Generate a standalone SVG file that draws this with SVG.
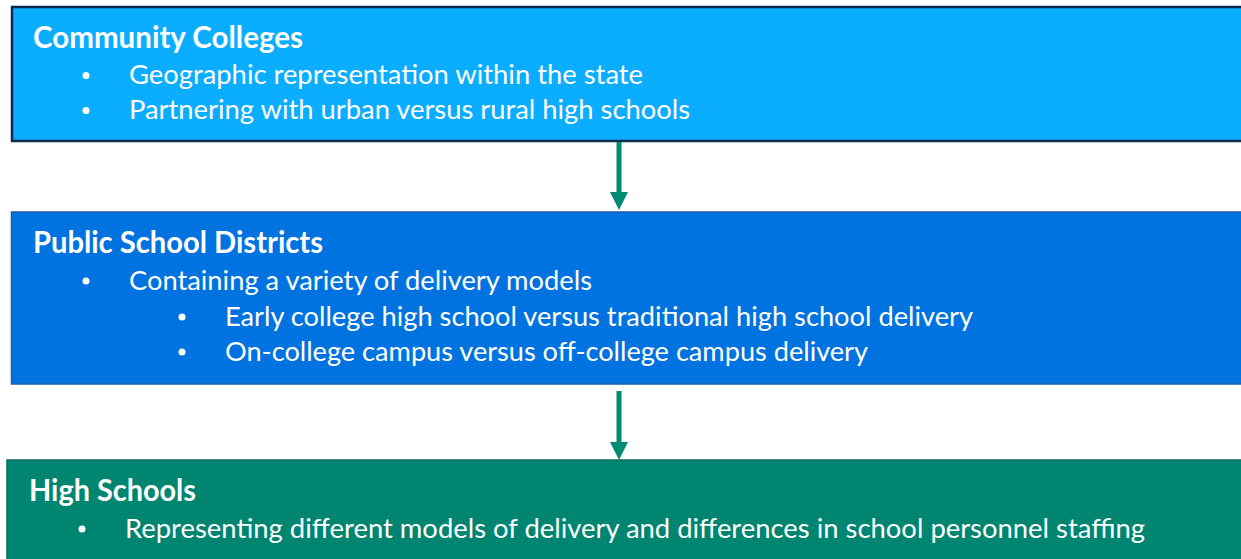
<svg xmlns="http://www.w3.org/2000/svg" width="1241" height="559" viewBox="0 0 1241 559">
<style>
.t{font-family:Lato,"Open Sans","Liberation Sans",sans-serif;fill:#ffffff;font-weight:bold;font-size:30px}
.b{font-family:Lato,"Open Sans","Liberation Sans",sans-serif;fill:#ffffff;font-size:26.5px}
.dot{fill:#ffffff}
.conn{stroke:#008B74;stroke-width:5;fill:none}
</style>
<defs>
<marker id="ah" viewBox="0 0 18 18" markerWidth="18" markerHeight="18" markerUnits="userSpaceOnUse" refX="0" refY="9" orient="auto">
<path d="M0,0 L18,9 L0,18 z" fill="#008B74"/>
</marker>
</defs>
<rect width="1241" height="559" fill="#ffffff"/>
<g id="community-colleges">
<rect x="12" y="7" width="1240" height="134" fill="#0AADFF" stroke="#0D2C4F" stroke-width="2.5"/>
<text class="t" x="33" y="48" textLength="270" lengthAdjust="spacingAndGlyphs">Community Colleges</text>
<circle class="dot" cx="86" cy="75.5" r="3.5"/>
<text class="b" x="129" y="84" textLength="514" lengthAdjust="spacingAndGlyphs">Geographic representation within the state</text>
<circle class="dot" cx="86" cy="110.5" r="3.5"/>
<text class="b" x="129" y="119" textLength="561" lengthAdjust="spacingAndGlyphs">Partnering with urban versus rural high schools</text>
</g>
<g id="public-school-districts">
<rect x="11.5" y="212" width="1240" height="172" fill="#0073E0" stroke="#1B5EA8" stroke-width="1.5"/>
<text class="t" x="33" y="253" textLength="290" lengthAdjust="spacingAndGlyphs">Public School Districts</text>
<circle class="dot" cx="86" cy="281" r="3.5"/>
<text class="b" x="129" y="290" textLength="463" lengthAdjust="spacingAndGlyphs">Containing a variety of delivery models</text>
<circle class="dot" cx="182" cy="317" r="3.5"/>
<text class="b" x="225" y="326" textLength="748" lengthAdjust="spacingAndGlyphs">Early college high school versus traditional high school delivery</text>
<circle class="dot" cx="182" cy="352" r="3.5"/>
<text class="b" x="225" y="361" textLength="643" lengthAdjust="spacingAndGlyphs">On-college campus versus off-college campus delivery</text>
</g>
<g id="high-schools">
<rect x="7" y="460" width="1245" height="110" fill="#008571" stroke="#0E6A5A" stroke-width="1.5"/>
<text class="t" x="29" y="501" textLength="167" lengthAdjust="spacingAndGlyphs">High Schools</text>
<circle class="dot" cx="82" cy="529" r="3.5"/>
<text class="b" x="125" y="538" textLength="1020" lengthAdjust="spacingAndGlyphs">Representing different models of delivery and differences in school personnel staffing</text>
</g>
<g id="connectors">
<line class="conn" x1="619" y1="142" x2="619" y2="192" marker-end="url(#ah)"/>
<line class="conn" x1="619" y1="391" x2="619" y2="442" marker-end="url(#ah)"/>
</g>
</svg>
